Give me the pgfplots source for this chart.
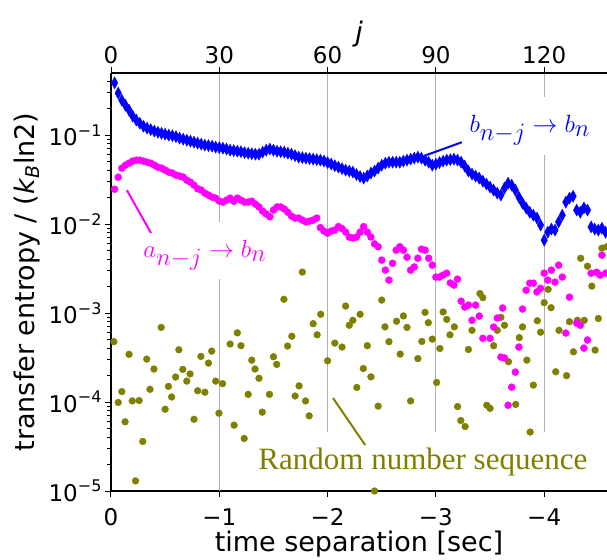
\documentclass[border=0pt]{standalone}
\usepackage{fontspec}
\setmainfont{DejaVu Sans}
\newfontfamily\serifrm{Liberation Serif}
\usepackage{pgfplots}
\pgfplotsset{compat=1.18}

\definecolor{teblue}{RGB}{0,0,255}
\definecolor{temag}{RGB}{255,0,255}
\definecolor{teolive}{RGB}{128,128,0}
\definecolor{gridcol}{RGB}{176,176,176}

\newcommand{\ex}[1]{10\raisebox{0.42em}{\fontsize{16}{16}\selectfont#1}}

\begin{document}
\begin{tikzpicture}
% main axis: x is the lag j, labelled in seconds (30 steps per second)
\begin{axis}[
  name=main, at={(0,0)}, anchor=south west,
  scale only axis, width=496pt, height=418pt,
  axis x line=bottom, axis y line=left,
  x axis line style={-}, y axis line style={-},
  axis line style={line width=1.2pt},
  xmin=0, xmax=137.4,
  ymode=log, ymin=1e-5, ymax=0.5,
  xtick={0,30,60,90,120},
  xticklabels={0,−1,−2,−3,−4},
  ytick={1e-5,1e-4,1e-3,1e-2,1e-1},
  yticklabels={\ex{−5},\ex{−4},\ex{−3},\ex{−2},\ex{−1}},
  minor ytick={2e-5,3e-5,4e-5,5e-5,6e-5,7e-5,8e-5,9e-5,
    2e-4,3e-4,4e-4,5e-4,6e-4,7e-4,8e-4,9e-4,
    2e-3,3e-3,4e-3,5e-3,6e-3,7e-3,8e-3,9e-3,
    2e-2,3e-2,4e-2,5e-2,6e-2,7e-2,8e-2,9e-2,
    2e-1,3e-1,4e-1},
  tick align=outside,
  major tick length=6pt, minor tick length=3.5pt,
  every tick/.style={black, line width=1pt},
  xticklabel style={font=\fontsize{23}{26}\selectfont, yshift=-8pt},
  yticklabel style={font=\fontsize{23}{26}\selectfont},
  xlabel style={font=\fontsize{27}{30}\selectfont, yshift=2pt},
  ylabel style={font=\fontsize{27}{30}\selectfont, yshift=2pt},
  xlabel={time separation [sec]},
  ylabel={transfer entropy / (\textit{k}\textsubscript{\textit{B}}ln2)},
  clip=true,
]
% grid segments, broken where the annotations sit
\addplot[gridcol, line width=1pt, forget plot] coordinates {(30,0.5) (30,0.0105)};
\addplot[gridcol, line width=1pt, forget plot] coordinates {(30,0.00241) (30,1e-5)};
\addplot[gridcol, line width=1pt, forget plot] coordinates {(60,0.5) (60,4.6e-5)};
\addplot[gridcol, line width=1pt, forget plot] coordinates {(90,0.5) (90,4.6e-5)};
\addplot[gridcol, line width=1pt, forget plot] coordinates {(120,0.5) (120,0.267)};
\addplot[gridcol, line width=1pt, forget plot] coordinates {(120,0.0596) (120,4.6e-5)};

% random number sequence
\addplot[only marks, mark=*, mark size=3.4pt, teolive] table {
j v
0.8 4.77e-4
2.0 9.9e-5
3.0 1.31e-4
3.9 6.0e-5
5.0 3.44e-4
5.9 1.03e-4
6.8 1.3e-5
7.8 1.04e-4
8.8 3.6e-5
9.9 3.04e-4
10.8 1.39e-4
11.9 2.35e-4
13.9 6.9e-4
15.0 8.3e-5
15.9 1.5e-4
16.8 1.14e-4
17.9 1.91e-4
18.8 3.87e-4
19.9 2.33e-4
21.0 1.72e-4
21.9 2.07e-4
23.0 6.4e-5
24.0 1.34e-4
24.9 3.26e-4
26.0 1.29e-4
27.0 2.74e-4
27.9 3.74e-4
29.0 1.72e-4
29.9 7.5e-5
30.9 1.61e-4
33.0 4.49e-4
34.1 5.5e-5
35.0 6.0e-4
36.0 4.3e-4
36.9 3.9e-5
38.0 1.22e-4
39.0 2.96e-4
39.9 2.35e-4
41.0 1.85e-4
41.9 7.7e-5
43.9 1.22e-4
45.0 3.23e-4
45.9 2.65e-4
47.9 1.43e-3
48.9 4.26e-4
50.1 5.5e-4
51.0 1.17e-4
52.1 1.52e-4
53.0 2.89e-3
53.9 1.03e-4
54.9 7.0e-5
56.0 7.6e-4
57.1 5.7e-4
58.1 9.7e-4
60.0 2.91e-4
62.0 4.6e-4
63.1 9.5e-6
64.0 4.15e-4
65.0 1.2e-3
66.0 7.3e-4
67.0 8.3e-4
68.1 1.46e-4
69.0 9.7e-4
69.9 2.38e-4
71.0 4.3e-4
72.0 1.92e-4
73.0 1.0e-5
74.0 9.0e-5
75.0 1.4e-3
75.9 7.0e-4
77.0 4.77e-4
79.1 8.1e-4
80.1 3.46e-4
81.0 9.3e-4
82.0 6.9e-4
83.0 1.03e-4
85.0 3.08e-4
86.1 4.8e-4
87.0 1.02e-3
87.9 7.8e-4
89.0 5.1e-4
90.2 1.66e-4
91.1 4.0e-4
92.0 1.03e-3
93.0 8.5e-4
93.9 5.7e-4
95.1 7.0e-4
96.0 8.9e-5
96.9 6.2e-5
98.1 5.3e-5
99.0 3.9e-4
100.0 6.4e-4
102.2 1.66e-3
103.0 1.49e-3
104.1 9.2e-5
105.0 8.5e-5
106.0 4.3e-4
107.0 6.4e-4
108.0 8.95e-4
109.0 7.3e-4
110.1 2.84e-4
112.1 9.4e-5
113.1 5.3e-4
114.0 7.0e-4
115.2 2.96e-4
116.1 4.6e-5
117.0 1.55e-4
118.1 8.2e-4
119.0 6.1e-4
120.0 1.31e-3
121.1 1.85e-3
121.9 1.15e-3
123.2 2.19e-4
124.1 6.4e-4
125.4 9.5e-6
126.2 1.98e-4
127.0 8.0e-4
128.1 3.67e-4
129.2 8.3e-4
130.1 4.13e-3
131.1 8.3e-4
132.0 3.37e-3
133.2 2.01e-3
134.1 3.84e-4
135.0 8.7e-4
136.0 5.37e-3
137.3 5.56e-3
};

% a_{n-j} -> b_n
\addplot[only marks, mark=*, mark size=3.5pt, temag] table {
j v
1 0.0247
2 0.0337
3 0.0426
4 0.0460
5 0.0484
6 0.0511
7 0.0524
8 0.0524
9 0.0511
10 0.0497
11 0.0484
12 0.0460
13 0.0437
14 0.0426
15 0.0405
16 0.0385
17 0.0375
18 0.0356
19 0.0347
20 0.0338
21 0.0312
22 0.0296
23 0.0274
24 0.0250
25 0.0241
26 0.0223
27 0.0212
28 0.0201
29 0.0196
30 0.0181
31 0.0177
32 0.0186
33 0.0196
34 0.0181
35 0.0196
36 0.0186
37 0.0177
38 0.0177
39 0.0181
40 0.0168
41 0.0156
42 0.0140
43 0.0130
44 0.0121
45 0.0144
46 0.0156
47 0.0156
48 0.0148
49 0.0136
50 0.0123
51 0.0117
52 0.0117
53 0.0111
54 0.0106
55 0.0108
56 0.0111
57 0.0117
58 0.00914
59 0.00835
60 0.00792
61 0.00835
62 0.00857
63 0.00938
64 0.00891
65 0.00813
66 0.00716
67 0.00698
68 0.00716
69 0.00813
70 0.00938
71 0.00813
72 0.00716
73 0.00600
74 0.00557
75 0.00394
76 0.00304
77 0.00235
78 0.00363
79 0.00510
80 0.00557
81 0.00510
82 0.00425
83 0.00304
84 0.00330
85 0.00414
86 0.00523
87 0.00510
88 0.00414
89 0.00346
90 0.00254
91 0.00254
92 0.00267
93 0.00281
94 0.00218
95 0.00206
96 0.00241
97 0.00136
98 0.00117
99 0.00123
100 8.3e-4
101 0.00123
102 9.25e-4
103 5.2e-4
105 5.2e-4
106 6.96e-4
107 8.8e-4
108 3.2e-4
108.5 0.00114
109 3.13e-4
110 9.2e-5
111 1.47e-4
112 2.17e-4
113 4.15e-4
114 0.00111
115 0.00181
116 0.00217
117 0.00217
118 0.00173
119 0.00190
120 0.00281
121 0.00235
122 0.00304
123 0.00223
124 0.00346
125 0.00254
126 5.96e-4
127 0.00151
129 7.7e-4
130 7.3e-4
131 4.04e-4
132 4.98e-4
133 0.00281
134.5 0.00288
135.5 0.00267
136 0.00448
137 0.00281
};

% b_{n-j} -> b_n
\addplot[only marks, mark=diamond*, mark size=6pt, teblue,
  mark options={xscale=0.72}] table {
j v
1 0.387
2 0.297
3 0.247
4 0.217
5 0.191
6 0.164
7 0.148
8 0.136
9 0.126
10 0.120
11 0.1155
12 0.111
13 0.108
14 0.105
15 0.1026
16 0.100
17 0.0987
18 0.0962
19 0.0925
20 0.0902
21 0.0879
22 0.0857
23 0.0835
24 0.0814
25 0.0793
26 0.0773
27 0.0763
28 0.0753
29 0.0734
30 0.0725
31 0.0715
32 0.0697
33 0.0678
34 0.0670
35 0.0661
36 0.0652
37 0.0636
38 0.0627
39 0.0619
40 0.0611
41 0.0611
42 0.0644
43 0.0678
44 0.0697
45 0.0678
46 0.0661
47 0.0652
48 0.0644
49 0.0627
50 0.0611
51 0.0588
52 0.0566
53 0.0559
54 0.0552
55 0.0545
56 0.0538
57 0.0531
58 0.0524
59 0.0511
60 0.0492
61 0.0473
62 0.0454
63 0.0437
64 0.0420
65 0.0405
66 0.0395
67 0.0385
68 0.0361
69 0.0343
70 0.0329
71 0.0347
72 0.0375
73 0.0395
74 0.0426
75 0.0460
76 0.0484
77 0.0497
78 0.0497
79 0.0497
80 0.0497
81 0.0511
82 0.0524
83 0.0538
84 0.0552
85 0.0566
86 0.0552
87 0.0524
88 0.0497
89 0.0460
90 0.0473
91 0.0492
92 0.0511
93 0.0524
94 0.0531
95 0.0538
96 0.0524
97 0.0497
98 0.0449
99 0.0395
100 0.0365
101 0.0347
102 0.0329
103 0.0304
104 0.0282
105 0.0261
106 0.0241
107 0.0223
108 0.0212
109 0.0254
110 0.0289
111 0.0274
112 0.0241
113 0.0201
114 0.0172
115 0.0152
116 0.0136
117 0.0126
118 0.0117
119 0.00975
120 0.00661
121 0.00813
122 0.00880
123 0.00857
124 0.0106
125 0.0126
126 0.0177
127 0.0196
128 0.0206
129 0.0144
130 0.0136
131 0.0152
132 0.0144
133 0.0093
134 0.0088
135 0.00857
136 0.0090
137 0.0081
};

% annotations
\draw[temag, line width=2pt] (axis cs:4.4,0.0241) -- (axis cs:11.1,0.00792);
\draw[teblue, line width=2pt] (axis cs:87.3,0.0596) -- (axis cs:97.2,0.0834);
\draw[teolive, line width=2pt] (axis cs:61.5,1.11e-4) -- (axis cs:70.4,3.29e-5);
\node[temag, font=\fontsize{38}{42}\selectfont] at (axis cs:26,0.00448) {$a_{n-j}\rightarrow b_n$};
\node[teblue, font=\fontsize{37}{41}\selectfont] at (axis cs:116,0.114) {$b_{n-j}\rightarrow b_n$};
\node[teolive, font=\serifrm\fontsize{31}{34}\selectfont] at (axis cs:86.4,2.12e-5) {Random number sequence};
\end{axis}

% top axis: lag index j
\begin{axis}[
  at={(0,0)}, anchor=south west,
  scale only axis, width=496pt, height=418pt,
  axis x line=top, axis y line=none,
  x axis line style={-, line width=1.2pt},
  xmin=0, xmax=137.4, ymin=0, ymax=1,
  xtick={0,30,60,90,120},
  xticklabels={0,30,60,90,120},
  tick align=outside, major tick length=6pt,
  every tick/.style={black, line width=1pt},
  xticklabel style={font=\fontsize{23}{26}\selectfont},
  xlabel style={font=\fontsize{27}{30}\selectfont, yshift=-8pt},
  xlabel={\textit{j}},
]
\end{axis}

\pgfresetboundingbox
\path (-111pt,-68pt) rectangle (496pt,491pt);
\end{tikzpicture}
\end{document}
